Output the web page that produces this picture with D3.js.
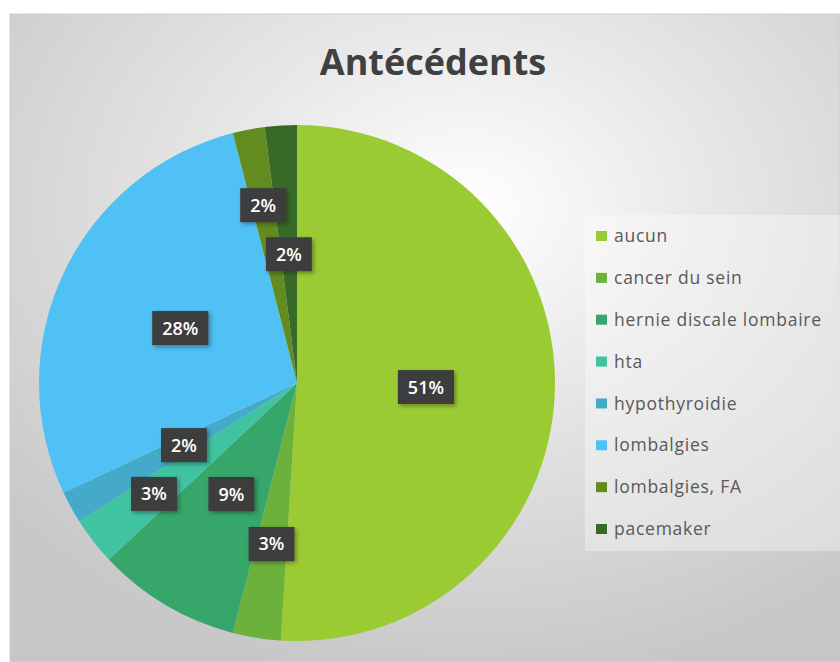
<html>
<head>
<meta charset="utf-8">
<title>Antécédents</title>
<script src="https://d3js.org/d3.v7.min.js"></script>
<style>
  body { margin: 0; background: #ffffff; }
  text { font-family: "Open Sans", "Noto Sans", sans-serif; }
</style>
</head>
<body>
<script>
// data
var categories = ["aucun", "cancer du sein", "hernie discale lombaire", "hta",
                  "hypothyroidie", "lombalgies", "lombalgies, FA", "pacemaker"];
var values = [51, 3, 9, 3, 2, 28, 2, 2];
var colors = ["#9bcb33", "#6bb13c", "#36a66b", "#3fc3a0",
              "#45a9c9", "#4fc1f5", "#628b20", "#386a27"];
var title = "Antécédents";

var width = 840, height = 662;
var cx = 297, cy = 383, r = 258;

var svg = d3.select("body").append("svg")
    .attr("width", width)
    .attr("height", height);

var defs = svg.append("defs");

var bg = defs.append("radialGradient")
    .attr("id", "bg")
    .attr("cx", "0.55").attr("cy", "0.3").attr("r", "0.75");
bg.append("stop").attr("offset", "0").attr("stop-color", "#ffffff");
bg.append("stop").attr("offset", "0.4").attr("stop-color", "#e7e7e7");
bg.append("stop").attr("offset", "1").attr("stop-color", "#c6c6c6");

var shadow = defs.append("filter").attr("id", "shadow")
    .attr("x", "-20%").attr("y", "-20%").attr("width", "150%").attr("height", "150%");
shadow.append("feDropShadow")
    .attr("dx", 2).attr("dy", 2).attr("stdDeviation", 2)
    .attr("flood-color", "#000").attr("flood-opacity", 0.35);

// chart area
svg.append("rect")
    .attr("x", 10).attr("y", 14)
    .attr("width", width - 10).attr("height", height - 14)
    .attr("fill", "url(#bg)")
    .attr("stroke", "#cfcfcf").attr("stroke-width", 1);

svg.append("text")
    .attr("x", 433).attr("y", 75)
    .attr("text-anchor", "middle")
    .attr("font-size", 36)
    .attr("font-weight", "bold")
    .attr("fill", "#404040")
    .text(title);

var total = d3.sum(values);
var pie = d3.pie().sort(null).value(function(d){ return d; });
var arcs = pie(values);
var arc = d3.arc().innerRadius(0).outerRadius(r);

var g = svg.append("g").attr("transform", "translate(" + cx + "," + cy + ")");

g.append("g")
  .selectAll("path").data(arcs)
  .enter().append("path")
    .attr("d", arc)
    .attr("fill", function(d, i){ return colors[i]; });

// labels: start at the centroid, push outward when boxes collide
var labels = arcs.map(function(d, i){
    return { i: i, a: (d.startAngle + d.endAngle) / 2,
             text: Math.round(d.value / total * 100) + "%" };
});

var fs = 18;
var layer = g.append("g");
labels.forEach(function(l){
    var t = layer.append("text")
        .attr("font-size", fs).attr("font-weight", 600)
        .text(l.text);
    l.w = t.node().getComputedTextLength() + 20;
    l.h = 34;
    t.remove();
});

var big = labels.filter(function(l){ return values[l.i] >= 5; })
    .sort(function(a, b){ return values[b.i] - values[a.i]; });
var small = labels.filter(function(l){ return values[l.i] < 5; }).reverse();
var order = big.concat(small);

var pad = 14, placed = [];
order.forEach(function(l){
    var k = r / 2;
    function pos(){ l.x = k * Math.sin(l.a); l.y = -k * Math.cos(l.a); }
    function hit(){
        return placed.some(function(p){
            return Math.abs(p.x - l.x) < (p.w + l.w) / 2 + pad &&
                   Math.abs(p.y - l.y) < (p.h + l.h) / 2 + pad;
        });
    }
    pos();
    while (hit() && k < r * 0.85) { k += 2; pos(); }
    placed.push(l);
});

var lab = layer.selectAll("g.lab").data(labels)
  .enter().append("g")
    .attr("class", "lab")
    .attr("transform", function(d){ return "translate(" + d.x + "," + d.y + ")"; });

lab.append("rect")
    .attr("x", function(d){ return -d.w / 2; })
    .attr("y", function(d){ return -d.h / 2; })
    .attr("width", function(d){ return d.w; })
    .attr("height", function(d){ return d.h; })
    .attr("fill", "#3c3c3e")
    .attr("filter", "url(#shadow)");

lab.append("text")
    .attr("text-anchor", "middle")
    .attr("dy", "0.36em")
    .attr("font-size", fs).attr("font-weight", 600)
    .attr("fill", "#ffffff")
    .text(function(d){ return d.text; });

// legend
var legend = svg.append("g");
legend.append("rect")
    .attr("x", 585).attr("y", 215)
    .attr("width", 255).attr("height", 336)
    .attr("fill", "#ffffff").attr("fill-opacity", 0.35);

var ly = d3.scalePoint().domain(categories).range([236, 529]);

var item = legend.selectAll("g.item").data(categories)
  .enter().append("g")
    .attr("class", "item")
    .attr("transform", function(d){ return "translate(596," + ly(d) + ")"; });

item.append("rect")
    .attr("x", 0).attr("y", -5)
    .attr("width", 11).attr("height", 10)
    .attr("fill", function(d, i){ return colors[i]; });

item.append("text")
    .attr("x", 18).attr("dy", "0.35em")
    .attr("font-size", 17.5)
    .attr("letter-spacing", 0.75)
    .attr("fill", "#595959")
    .text(function(d){ return d; });
</script>
</body>
</html>
